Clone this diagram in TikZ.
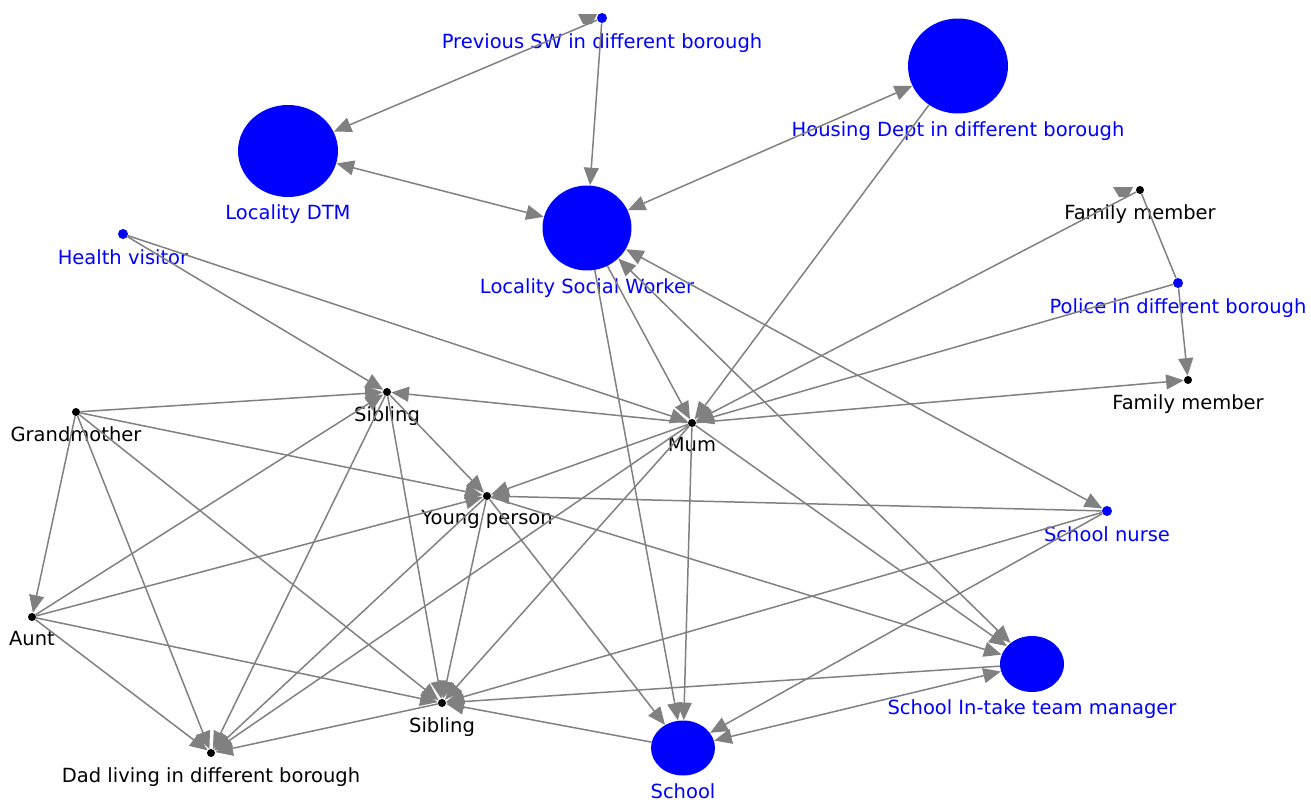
\documentclass[tikz,border=0pt]{standalone}
\usepackage{fontspec}
\setmainfont{DejaVu Sans}
\usetikzlibrary{arrows.meta}
\usetikzlibrary{positioning}
\usetikzlibrary{shapes.geometric}

\tikzset{
  person/.style={circle,fill=black,inner sep=0pt,minimum size=0.16cm},
  agency/.style={circle,fill=blue,inner sep=0pt,minimum size=0.2cm},
  team/.style={ellipse,fill=blue,inner sep=0pt},
  teamlabel/.style={blue,yshift=1.5pt},
  link/.style={draw=gray,line width=0.85pt,-{Triangle[length=10pt,width=8.5pt]}},
  twoway/.style={link,{Triangle[length=10pt,width=8.5pt]}-{Triangle[length=10pt,width=8.5pt]}},
  plain/.style={draw=gray,line width=0.85pt},
  every label/.style={inner sep=0pt,font=\fontsize{11.1}{13}\selectfont},
}

\begin{document}
\begin{tikzpicture}[x=0.02cm,y=-0.02cm,label distance=5.7pt]
	\useasboundingbox (0,0) rectangle (1311,801);
	% agencies
	\node[agency,label={[blue]below:Previous SW in different borough}] (prevsw) at (602,18) {};
	\node[team,minimum width=2cm,minimum height=1.9cm,label={[teamlabel]below:Housing Dept in different borough}] (housing) at (958,66) {};
	\node[team,minimum width=2cm,minimum height=1.84cm,label={[teamlabel]below:Locality DTM}] (dtm) at (288,151) {};
	\node[team,minimum width=1.78cm,minimum height=1.7cm,label={[teamlabel]below:Locality Social Worker}] (lsw) at (587,228) {};
	\node[agency,label={[blue]below:Health visitor}] (health) at (123,234) {};
	\node[agency,label={[blue]below:Police in different borough}] (police) at (1178,283) {};
	\node[agency,label={[blue]below:School nurse}] (nurse) at (1107,511) {};
	\node[team,minimum width=1.28cm,minimum height=1.12cm,label={[teamlabel]below:School In-take team manager}] (sitm) at (1032,664) {};
	\node[team,minimum width=1.28cm,minimum height=1.1cm,label={[teamlabel]below:School}] (school) at (683,748) {};
	% family
	\node[person,label=below:Family member] (fmtop) at (1140,190) {};
	\node[person,label=below:Family member] (fmbot) at (1188,380) {};
	\node[person,label=below:Sibling] (sibtop) at (387,392) {};
	\node[person,label=below:Grandmother] (gran) at (76,412) {};
	\node[person,label=below:Mum] (mum) at (692,423) {};
	\node[person,label=below:Young person] (young) at (487,496) {};
	\node[person,label=below:Aunt] (aunt) at (32,617) {};
	\node[person,label=below:Sibling] (sibbot) at (442,703) {};
	\node[person,label=below:Dad living in different borough] (dad) at (211,753) {};

	% loop marks
	\fill[gray,shift={(prevsw)}] (-24,-4) -- (-5,-4) -- (-10,6) -- (-19,6) -- cycle;
	\fill[gray,shift={(fmtop)}] (-27,-3) -- (-7,-3) -- (-12,7) -- (-21,7) -- cycle;

	\foreach \from/\to in
	{housing/lsw, dtm/lsw, lsw/nurse, lsw/sitm, school/sitm}
	\draw[twoway] (\from) -- (\to);

	\foreach \from/\to in
	{prevsw/dtm, prevsw/lsw, lsw/mum, lsw/school, housing/mum, fmtop/mum,
	 police/mum, health/mum, police/fmbot, mum/fmbot,
	 health/sibtop, mum/sibtop, gran/sibtop, aunt/sibtop,
	 mum/young, gran/young, sibtop/young, aunt/young, nurse/young, gran/aunt,
	 mum/sibbot, gran/sibbot, aunt/sibbot, sibtop/sibbot, young/sibbot,
	 nurse/sibbot, sitm/sibbot, school/sibbot,
	 gran/dad, aunt/dad, sibtop/dad, young/dad, mum/dad, sibbot/dad,
	 mum/school, young/school, nurse/school, mum/sitm, young/sitm}
	\draw[link] (\from) -- (\to);

	\draw[plain] (fmtop) -- (police);
\end{tikzpicture}
\end{document}
